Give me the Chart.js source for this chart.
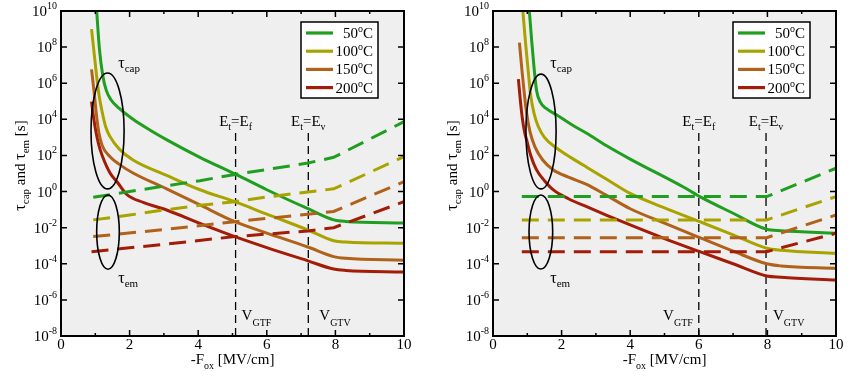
<!DOCTYPE html>
<html><head><meta charset="utf-8">
<script src="https://cdn.jsdelivr.net/npm/chart.js@4.4.1/dist/chart.umd.min.js"></script>
<style>
html,body{margin:0;padding:0;background:#fff;}
#wrap{position:relative;width:850px;height:378px;overflow:hidden;}
canvas{position:absolute;top:0;}
</style>
</head><body>
<div id="wrap">
<canvas id="cL" width="425" height="378" style="left:0;width:425px;height:378px"></canvas>
<canvas id="cR" width="425" height="378" style="left:425px;width:425px;height:378px"></canvas>
</div>
<script>
// ---------------- DATA (x = -F_ox [MV/cm], y = time [s]) ----------------
const temps = ['50', '100', '150', '200'];
const xTickLabels = ['0', '2', '4', '6', '8', '10'];
const yTickExponents = ['10', '8', '6', '4', '2', '0', '-2', '-4', '-6', '-8'];

// Left panel: capture times (solid)
const capL_50 = [[1.04,1e10],[1.12,7.9e7],[1.22,2.5e6],[1.32,4e5],[1.45,1.26e5],[1.7,4e4],[2.1,1e4],[2.6,2.5e3],[3.1,710],[4.05,79],[5.1,8.9],[6.0,1.26],[7.2,0.112],[7.95,0.027],[8.3,0.022],[10,0.018]];
const capL_100 = [[0.89,1e9],[0.97,4e7],[1.05,1.6e6],[1.12,1.6e5],[1.19,3.2e4],[1.3,4e3],[1.43,1.1e3],[1.7,224],[2.1,56],[3.08,7.9],[4.05,1.26],[5.07,0.275],[6.0,0.056],[7.2,0.0074],[7.95,0.0019],[8.3,0.0016],[10,0.00135]];
const capL_150 = [[0.89,5.9e6],[0.96,4e5],[1.03,2e4],[1.1,2e3],[1.2,355],[1.43,85],[1.7,32],[2.1,10.7],[3.08,1.41],[4.05,0.182],[5.07,0.0214],[6.0,0.005],[7.2,8.5e-4],[7.95,2.5e-4],[8.3,2e-4],[10,1.58e-4]];
const capL_200 = [[0.89,9.5e4],[0.95,1.26e4],[1.02,2e3],[1.1,400],[1.2,100],[1.43,10.7],[1.65,3.16],[1.91,0.71],[2.4,0.25],[3.08,0.095],[4.05,0.0174],[5.07,0.0032],[6.0,7.9e-4],[7.2,1.45e-4],[7.95,5.1e-5],[8.3,4.3e-5],[10,3.5e-5]];
// Left panel: emission times (dashed)
const emL_50 = [[0.94,0.48],[2,1.0],[3,2.0],[4.05,4.0],[5.07,8.9],[6,16.6],[7.2,38],[7.95,79],[10,7400]];
const emL_100 = [[0.94,0.027],[2,0.05],[3,0.095],[4.05,0.174],[5.07,0.275],[6,0.5],[7.2,0.95],[7.95,1.41],[10,85]];
const emL_150 = [[0.94,0.0032],[3,0.0079],[5.07,0.0214],[7.2,0.056],[7.95,0.079],[10,3.5]];
const emL_200 = [[0.89,4.7e-4],[3,1.2e-3],[5.07,3.2e-3],[7.2,6.6e-3],[7.95,0.01],[10,0.275]];

// Right panel: capture times (solid)
const capR_50 = [[1.06,1e10],[1.13,2e8],[1.2,6.3e6],[1.27,4e5],[1.38,8.9e4],[1.55,4e4],[1.86,1.74e4],[2.3,5e3],[2.73,1.7e3],[3.3,355],[4.0,63],[5.55,1.78],[6.03,0.525],[7.0,0.063],[7.98,0.0081],[8.4,0.0068],[10,0.0049]];
const capR_100 = [[0.87,1e10],[0.95,1.6e8],[1.03,4e6],[1.1,2e5],[1.2,2e4],[1.32,4e3],[1.5,1e3],[1.86,251],[2.3,71],[2.73,22.4],[3.3,5],[4.0,0.79],[5.0,0.126],[6.03,0.0214],[7.0,0.004],[7.98,7.2e-4],[8.4,5.6e-4],[10,3.8e-4]];
const capR_150 = [[0.77,1.78e8],[0.85,4e6],[0.92,2e5],[0.98,2.2e4],[1.08,2e3],[1.22,309],[1.45,56],[1.76,15.8],[2.2,6.3],[2.73,2.5],[3.3,0.63],[4.0,0.112],[5.0,0.0178],[6.03,0.0028],[7.0,5e-4],[7.98,1e-4],[8.4,7.6e-5],[10,5.6e-5]];
const capR_200 = [[0.74,1.7e6],[0.8,1e5],[0.86,1e4],[0.92,2e3],[0.98,724],[1.1,100],[1.27,15.8],[1.5,4],[1.76,1.23],[2.2,0.4],[2.73,0.145],[3.3,0.05],[4.0,0.0141],[5.0,0.0025],[6.03,4.7e-4],[7.0,1e-4],[7.98,2.1e-5],[8.4,1.8e-5],[10,1.26e-5]];
// Right panel: emission times (dashed)
const emR_50 = [[0.84,0.525],[7.98,0.525],[10,19.5]];
const emR_100 = [[0.84,0.027],[7.98,0.027],[10,0.525]];
const emR_150 = [[0.84,0.0028],[7.98,0.0028],[10,0.05]];
const emR_200 = [[0.84,4.7e-4],[7.98,4.7e-4],[10,4.9e-3]];

// Reference field positions (vertical dashed markers) and their top value
const markersL = [5.09, 7.21];
const markersR = [6.0, 7.96];
const markerTop = 1.8e3;
const yMin = 1e-8, yMax = 1e10, xMin = 0, xMax = 10;

// ---------------- STYLE ----------------
const FONT = '"Liberation Serif","Times New Roman",Times,serif';
const colors = ['#1f9e1f', '#a9a300', '#b0621a', '#a31c08'];

function pts(arr){ return arr.map(p => ({x:p[0], y:p[1]})); }

function buildDatasets(caps, ems, markers){
  const ds = [];
  ems.forEach((e,i)=>ds.push({data:pts(e), borderColor:colors[i], borderWidth:3, borderDash:[17,9], pointRadius:0, tension:0, fill:false}));
  caps.forEach((c,i)=>ds.push({data:pts(c), borderColor:colors[i], borderWidth:3, pointRadius:0, cubicInterpolationMode:'monotone', fill:false}));
  markers.forEach(m=>ds.push({data:[{x:m,y:yMin},{x:m,y:markerTop}], borderColor:'#000', borderWidth:1.3, borderDash:[8,5], pointRadius:0, tension:0, fill:false}));
  return ds;
}

// draw a sequence of text runs (for sub/superscripts)
function runs(ctx, parts, x, y, align){
  let total = 0;
  parts.forEach(p=>{ ctx.font = p.s + 'px ' + FONT; p.w = ctx.measureText(p.t).width; total += p.w; });
  let cx = align==='center' ? x - total/2 : align==='right' ? x - total : x;
  ctx.textAlign = 'left'; ctx.textBaseline = 'alphabetic';
  parts.forEach(p=>{ ctx.font = p.s + 'px ' + FONT; ctx.fillText(p.t, cx, y + (p.dy||0)); cx += p.w; });
}

function makeFramePlugin(cfg){
  return {
    id:'frame'+cfg.side,
    beforeDatasetsDraw(chart){
      const {ctx, chartArea:a} = chart;
      ctx.save(); ctx.fillStyle = '#efefef';
      ctx.fillRect(a.left, a.top, a.right-a.left, a.bottom-a.top); ctx.restore();
    },
    afterDatasetsDraw(chart){
      const {ctx, chartArea:a, scales:{x:xs, y:ys}} = chart;
      ctx.save();
      ctx.fillStyle = '#000'; ctx.strokeStyle = '#000';
      // ellipses
      ctx.lineWidth = 1.6;
      cfg.ellipses.forEach(e=>{
        const x0 = xs.getPixelForValue(e.x0), x1 = xs.getPixelForValue(e.x1);
        const y0 = ys.getPixelForValue(e.y0), y1 = ys.getPixelForValue(e.y1);
        ctx.beginPath();
        ctx.ellipse((x0+x1)/2, (y0+y1)/2, Math.abs(x1-x0)/2, Math.abs(y1-y0)/2, 0, 0, Math.PI*2);
        ctx.stroke();
      });
      // tau labels
      const capX = xs.getPixelForValue(cfg.tauX);
      runs(ctx, [{t:'τ',s:16},{t:'cap',s:11,dy:4}], capX, a.top+57, 'left');
      runs(ctx, [{t:'τ',s:16},{t:'em',s:11,dy:4}], capX, a.top+272, 'left');
      // marker labels
      cfg.markerLabels.forEach((m,i)=>{
        const px = xs.getPixelForValue(cfg.markers[i]);
        runs(ctx, [{t:'E',s:15},{t:'t',s:10,dy:4},{t:'=E',s:15},{t:m.sub,s:10,dy:4}], px, a.top+115, 'center');
        const vx = m.vSide==='left' ? px-6 : px+ (m.off||6);
        runs(ctx, [{t:'V',s:15},{t:m.v,s:10,dy:6}], vx, a.top+309, m.vSide==='left'?'right':'left');
      });
      // frame
      ctx.lineWidth = 2;
      ctx.strokeRect(a.left, a.top, a.right-a.left, a.bottom-a.top);
      // ticks inward
      ctx.lineWidth = 1.5;
      ctx.beginPath();
      for(let v=xMin; v<=xMax; v++){
        const px = xs.getPixelForValue(v); const len = v%2===0 ? 6 : 3;
        ctx.moveTo(px, a.bottom); ctx.lineTo(px, a.bottom-len);
        ctx.moveTo(px, a.top); ctx.lineTo(px, a.top+len);
      }
      yTickExponents.forEach(e=>{
        const py = ys.getPixelForValue(Math.pow(10, +e));
        ctx.moveTo(a.left, py); ctx.lineTo(a.left+6, py);
        ctx.moveTo(a.right, py); ctx.lineTo(a.right-6, py);
      });
      ctx.stroke();
      // x tick labels
      xTickLabels.forEach(l=>{
        const px = xs.getPixelForValue(+l);
        runs(ctx, [{t:l,s:15}], px, a.bottom+13, 'center');
      });
      // y tick labels
      yTickExponents.forEach(e=>{
        const py = ys.getPixelForValue(Math.pow(10, +e));
        runs(ctx, [{t:'10',s:15},{t:e,s:10,dy:-7}], a.left-4, py+5, 'right');
      });
      // axis titles
      runs(ctx, [{t:'-F',s:15},{t:'ox',s:10,dy:5},{t:' [MV/cm]',s:15}], (a.left+a.right)/2, a.bottom+28, 'center');
      ctx.save();
      ctx.translate(a.left-36, (a.top+a.bottom)/2 - 8);
      ctx.rotate(-Math.PI/2);
      runs(ctx, [{t:'τ',s:16},{t:'cap',s:11,dy:4},{t:' and ',s:15},{t:'τ',s:16},{t:'em',s:11,dy:4},{t:' [s]',s:15}], 0, 0, 'center');
      ctx.restore();
      // legend
      const bw = 77, bh = 76, bx = a.right - 26 - bw, by = a.top + 11;
      ctx.fillStyle = '#fff'; ctx.fillRect(bx, by, bw, bh);
      ctx.lineWidth = 1.5; ctx.strokeStyle = '#000'; ctx.strokeRect(bx, by, bw, bh);
      temps.forEach((t,i)=>{
        const ly = by + 11 + i*18.2;
        ctx.strokeStyle = colors[i]; ctx.lineWidth = 3.2;
        ctx.beginPath(); ctx.moveTo(bx+5, ly); ctx.lineTo(bx+32, ly); ctx.stroke();
        ctx.fillStyle = '#000';
        runs(ctx, [{t:t,s:15},{t:'o',s:10,dy:-6},{t:'C',s:15}], bx+72, ly+5, 'right');
      });
      ctx.restore();
    }
  };
}

function makeChart(id, caps, ems, markers, pad, cfg){
  return new Chart(document.getElementById(id), {
    type:'line',
    data:{datasets:buildDatasets(caps, ems, markers)},
    options:{
      responsive:false, animation:false, events:[], devicePixelRatio:1,
      layout:{padding:pad},
      plugins:{legend:{display:false}, tooltip:{enabled:false}},
      scales:{
        x:{type:'linear', min:xMin, max:xMax, display:false},
        y:{type:'logarithmic', min:yMin, max:yMax, display:false}
      }
    },
    plugins:[makeFramePlugin(cfg)]
  });
}

makeChart('cL', [capL_50,capL_100,capL_150,capL_200], [emL_50,emL_100,emL_150,emL_200], markersL,
  {left:61, right:21, top:11, bottom:42},
  {side:'L', markers:markersL, tauX:1.67,
   ellipses:[{x0:0.875,x1:1.84,y0:1.4,y1:3.7e6},{x0:1.04,x1:1.70,y0:5e-5,y1:0.65}],
   markerLabels:[{sub:'f', v:'GTF', vSide:'right', off:6},{sub:'v', v:'GTV', vSide:'right', off:11}]});

makeChart('cR', [capR_50,capR_100,capR_150,capR_200], [emR_50,emR_100,emR_150,emR_200], markersR,
  {left:68, right:14, top:11, bottom:42},
  {side:'R', markers:markersR, tauX:1.67,
   ellipses:[{x0:0.96,x1:1.84,y0:1.4,y1:3.2e6},{x0:1.05,x1:1.74,y0:5.1e-5,y1:0.65}],
   markerLabels:[{sub:'f', v:'GTF', vSide:'left'},{sub:'v', v:'GTV', vSide:'right', off:7}]});
</script>
</body></html>
